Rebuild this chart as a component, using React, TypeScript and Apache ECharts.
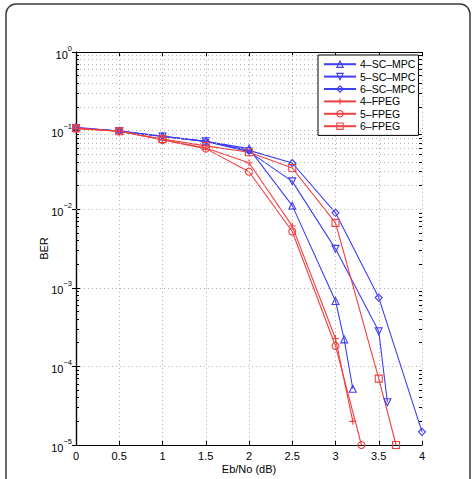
import React, { useEffect, useRef } from "react";
import * as echarts from "echarts";

const seriesNames = ["4–SC–MPC", "5–SC–MPC", "6–SC–MPC", "4–FPEG", "5–FPEG", "6–FPEG"];

const sc4X = [0, 0.5, 1, 1.5, 2, 2.5, 3, 3.1, 3.2];
const sc4Y = [0.108, 0.099, 0.084, 0.073, 0.059, 0.0111, 0.00068, 0.000221, 0.000052];
const sc5X = [0, 0.5, 1, 1.5, 2, 2.5, 3, 3.5, 3.6];
const sc5Y = [0.108, 0.099, 0.084, 0.073, 0.054, 0.0226, 0.00313, 0.00028, 0.000035];
const sc6X = [0, 0.5, 1, 1.5, 2, 2.5, 3, 3.5, 4];
const sc6Y = [0.11, 0.099, 0.085, 0.073, 0.056, 0.0387, 0.009, 0.00075, 0.0000147];
const fp4X = [0, 0.5, 1, 1.5, 2, 2.5, 3, 3.2];
const fp4Y = [0.107, 0.098, 0.077, 0.06, 0.039, 0.0061, 0.000226, 0.00002];
const fp5X = [0, 0.5, 1, 1.5, 2, 2.5, 3, 3.3];
const fp5Y = [0.106, 0.098, 0.076, 0.059, 0.03, 0.0052, 0.000182, 0.00001];
const fp6X = [0, 0.5, 1, 1.5, 2, 2.5, 3, 3.5, 3.7];
const fp6Y = [0.107, 0.098, 0.078, 0.064, 0.053, 0.0334, 0.0067, 0.00007, 0.00001];

const xTicks = [0, 0.5, 1, 1.5, 2, 2.5, 3, 3.5, 4];
const decades = [-5, -4, -3, -2, -1];
const minorMultipliers = [2, 3, 4, 5, 6, 7, 8, 9];

const BLUE = "#3f3ff2";
const RED = "#f23f3f";
const FONT = "Liberation Sans, Arial, Helvetica, sans-serif";
const PLUS = "path://M5,0 L5,10 M0,5 L10,5";

function zip(xs: number[], ys: number[]) {
  return xs.map((x, i) => [x, ys[i]]);
}

export default function App() {
  const ref = useRef<HTMLDivElement>(null);
  useEffect(() => {
    document.body.style.margin = "0";
    if (!ref.current) return;
    const chart = echarts.init(ref.current, null, { renderer: "svg" });

    const minorVals: number[] = [];
    decades.forEach((d) => minorMultipliers.forEach((m) => minorVals.push(m * Math.pow(10, d))));
    const xMin = xTicks[0];
    const xMax = xTicks[xTicks.length - 1];
    const tickLen = 0.035;

    const gridLineStyle = { color: "#b4b4b4", width: 1, type: [1, 3] as any };
    const markData: any[] = [];
    minorVals.forEach((v) => {
      markData.push({ yAxis: v, lineStyle: gridLineStyle });
      markData.push([
        { coord: [xMin, v], lineStyle: { color: "#000", width: 1, type: "solid" } },
        { coord: [xMin + tickLen, v] },
      ]);
      markData.push([
        { coord: [xMax, v], lineStyle: { color: "#000", width: 1, type: "solid" } },
        { coord: [xMax - tickLen, v] },
      ]);
    });

    const colors = [BLUE, BLUE, BLUE, RED, RED, RED];

    const mk = (name: string, xs: number[], ys: number[], color: string, symbol: string, rotate = 0) => ({
      name,
      type: "line",
      data: zip(xs, ys),
      symbol,
      symbolSize: 7,
      symbolRotate: rotate,
      showAllSymbol: true,
      clip: false,
      z: 3,
      lineStyle: { color, width: 1.1 },
      itemStyle: { color: "none", borderColor: color, borderWidth: 1.1 },
      emphasis: { disabled: true },
    });

    const yLabel = (v: number) => {
      const e = Math.round(Math.log10(v));
      const s = e < 0 ? "−" + Math.abs(e) : String(e);
      return `{b|10}{s|${s}}`;
    };

    const option: any = {
      animation: false,
      backgroundColor: "#fff",
      textStyle: { fontFamily: FONT },
      graphic: [
        {
          type: "rect",
          shape: { x: 6, y: 4, width: 464, height: 495, r: 10 },
          style: { fill: "none", stroke: "#3a3a3a", lineWidth: 1.5 },
          silent: true,
          z: 0,
        },
      ],
      grid: { left: 76, right: 51, top: 52, bottom: 33 },
      legend: {
        data: seriesNames.map((n, i) => ({
          name: n,
          itemStyle: { color: "none", borderColor: colors[i], borderWidth: 1.1 },
        })),
        orient: "vertical",
        left: 318,
        top: 55,
        itemWidth: 32,
        itemHeight: 8,
        itemGap: 0,
        padding: [3, 3, 3, 5],
        borderColor: "#000",
        borderWidth: 1,
        backgroundColor: "#fff",
        itemStyle: { color: "none" },
        textStyle: { fontFamily: FONT, fontSize: 10.5, color: "#000", lineHeight: 12.4, padding: [0, 0, 0, -1] },
        z: 10,
      },
      xAxis: [
        {
          type: "value",
          min: xMin,
          max: xMax,
          interval: 0.5,
          name: "Eb/No (dB)",
          nameLocation: "middle",
          nameGap: 18,
          nameMoveOverlap: false,
          nameTextStyle: { fontFamily: FONT, fontSize: 11, color: "#000" },
          axisLine: { lineStyle: { color: "#000", width: 1.2 } },
          axisTick: { inside: true, length: 4, lineStyle: { color: "#000" } },
          axisLabel: { fontFamily: FONT, fontSize: 11, color: "#000", margin: 5 },
          splitLine: { show: true, lineStyle: gridLineStyle },
        },
        {
          type: "value",
          position: "top",
          min: xMin,
          max: xMax,
          interval: 0.5,
          axisLine: { lineStyle: { color: "#000", width: 1.2 } },
          axisTick: { inside: true, length: 4, lineStyle: { color: "#000" } },
          axisLabel: { show: false },
          splitLine: { show: false },
        },
      ],
      yAxis: [
        {
          type: "log",
          logBase: 10,
          min: 1e-5,
          max: 1,
          name: "BER",
          nameLocation: "middle",
          nameGap: 27,
          nameMoveOverlap: false,
          nameRotate: 90,
          nameTextStyle: { fontFamily: FONT, fontSize: 11, color: "#000" },
          axisLine: { lineStyle: { color: "#000", width: 1.2 } },
          axisTick: { inside: true, length: 4, lineStyle: { color: "#000" } },
          axisLabel: {
            formatter: yLabel,
            margin: 4,
            rich: {
              b: { fontFamily: FONT, fontSize: 11, color: "#000", lineHeight: 16, verticalAlign: "bottom" },
              s: { fontFamily: FONT, fontSize: 7.5, color: "#000", lineHeight: 9, verticalAlign: "top" },
            },
          },
          splitLine: { show: true, lineStyle: gridLineStyle },
        },
        {
          type: "log",
          logBase: 10,
          min: 1e-5,
          max: 1,
          position: "right",
          axisLine: { lineStyle: { color: "#000", width: 1.2 } },
          axisTick: { inside: true, length: 4, lineStyle: { color: "#000" } },
          axisLabel: { show: false },
          splitLine: { show: false },
        },
      ],
      series: [
        {
          name: "_grid",
          type: "line",
          data: [],
          z: 1,
          silent: true,
          markLine: {
            silent: true,
            symbol: "none",
            label: { show: false },
            emphasis: { disabled: true },
            animation: false,
            data: markData,
          },
        },
        mk(seriesNames[0], sc4X, sc4Y, BLUE, "triangle"),
        mk(seriesNames[1], sc5X, sc5Y, BLUE, "triangle", 180),
        mk(seriesNames[2], sc6X, sc6Y, BLUE, "diamond"),
        mk(seriesNames[3], fp4X, fp4Y, RED, PLUS),
        mk(seriesNames[4], fp5X, fp5Y, RED, "circle"),
        mk(seriesNames[5], fp6X, fp6Y, RED, "rect"),
      ],
    };
    chart.setOption(option);
    return () => chart.dispose();
  }, []);
  return <div ref={ref} style={{ width: 473, height: 479 }} />;
}
